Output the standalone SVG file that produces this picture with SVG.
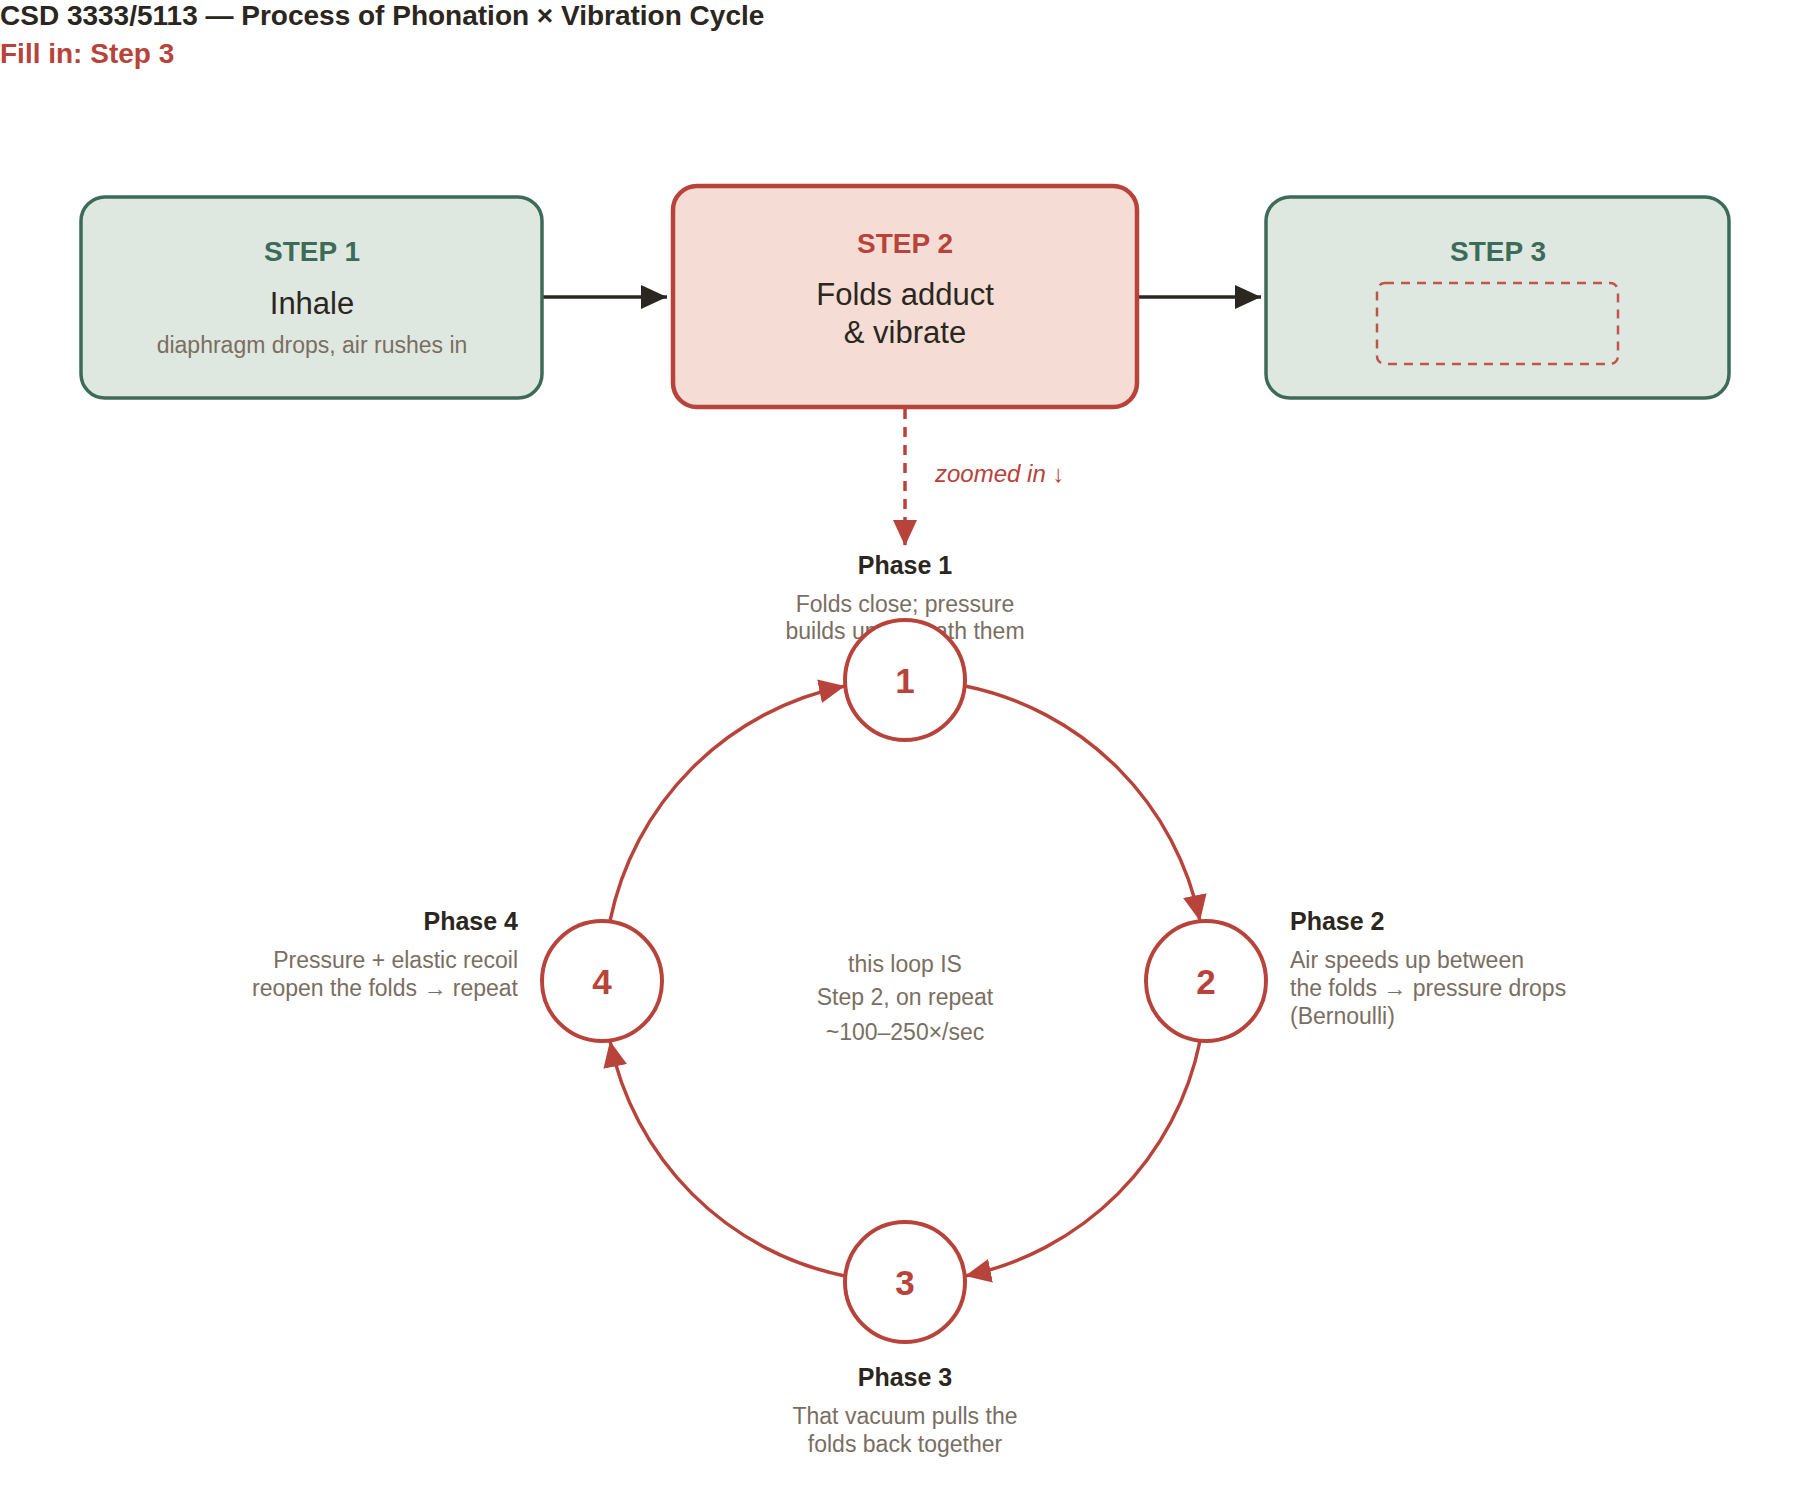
<svg xmlns="http://www.w3.org/2000/svg" width="1800" height="1496" viewBox="0 0 1800 1496">
<style>
text{font-family:"Liberation Sans",Arial,sans-serif}
.t{font-size:28px;font-weight:bold;fill:#2b2620}
.g{fill:#dfe8e0;stroke:#3d6b5a;stroke-width:3.5}
.sh{font-size:28px;font-weight:bold;text-anchor:middle}
.m{font-size:31px;fill:#2b2620;text-anchor:middle}
.s{font-size:23px;fill:#7a6e62}
.ph{font-size:25px;font-weight:bold;fill:#2b2620}
.c{fill:#fff;stroke:#b8433a;stroke-width:4}
.n{font-size:35px;font-weight:bold;fill:#b8433a;text-anchor:middle}
.arc{fill:none;stroke:#b8433a;stroke-width:3.5}
</style>
<defs>
<marker id="ah" markerUnits="userSpaceOnUse" markerWidth="28" markerHeight="28" viewBox="0 0 28 28" refX="26" refY="14" orient="auto"><path d="M0,2 L26,14 L0,26 Z" fill="#2b2620"/></marker>
<marker id="ar" markerUnits="userSpaceOnUse" markerWidth="28" markerHeight="28" viewBox="0 0 28 28" refX="26" refY="14" orient="auto"><path d="M0,2 L26,14 L0,26 Z" fill="#b8433a"/></marker>
</defs>
<text class="t" x="0" y="25">CSD 3333/5113 — Process of Phonation × Vibration Cycle</text>
<text x="0" y="63" style="font-size:28px;font-weight:bold;fill:#b8433a">Fill in: Step 3</text>
<g id="connectors">
<line x1="543" y1="297" x2="667" y2="297" stroke="#2b2620" stroke-width="3.5" marker-end="url(#ah)"/>
<line x1="1137" y1="297" x2="1261" y2="297" stroke="#2b2620" stroke-width="3.5" marker-end="url(#ah)"/>
<line x1="905" y1="409" x2="905" y2="546" stroke="#b8433a" stroke-width="3.5" stroke-dasharray="10,8" marker-end="url(#ar)"/>
<text x="935" y="482" style="font-size:24px;font-style:italic;fill:#b8433a">zoomed in ↓</text>
<path class="arc" d="M965,686 A301,301 0 0 1 1200,921" marker-end="url(#ar)"/>
<path class="arc" d="M1200,1041 A301,301 0 0 1 965,1276" marker-end="url(#ar)"/>
<path class="arc" d="M845,1276 A301,301 0 0 1 610,1041" marker-end="url(#ar)"/>
<path class="arc" d="M610,921 A301,301 0 0 1 845,686" marker-end="url(#ar)"/>
</g>
<g id="step1">
<rect class="g" x="81" y="197" width="461" height="201" rx="24"/>
<text class="sh" x="312" y="261" fill="#3d6b5a">STEP 1</text>
<text class="m" x="312" y="314">Inhale</text>
<text class="s" x="312" y="353" text-anchor="middle">diaphragm drops, air rushes in</text>
</g>
<g id="step2">
<rect x="673" y="186" width="464" height="221" rx="24" fill="#f5ddd5" stroke="#b8433a" stroke-width="4.5"/>
<text class="sh" x="905" y="253" fill="#b8433a">STEP 2</text>
<text class="m" x="905" y="305">Folds adduct</text>
<text class="m" x="905" y="343">&amp; vibrate</text>
</g>
<g id="step3">
<rect class="g" x="1266" y="197" width="463" height="201" rx="24"/>
<text class="sh" x="1498" y="261" fill="#3d6b5a">STEP 3</text>
<rect x="1377" y="283" width="241" height="81" rx="8" fill="none" stroke="#c0554b" stroke-width="2.5" stroke-dasharray="9,7"/>
</g>
<g id="phase1">
<text class="ph" x="905" y="574" text-anchor="middle">Phase 1</text>
<text class="s" x="905" y="612" text-anchor="middle">Folds close; pressure</text>
<text class="s" x="905" y="639" text-anchor="middle">builds up beneath them</text>
<circle class="c" cx="905" cy="680" r="60"/>
<text class="n" x="905" y="693">1</text>
</g>
<g id="phase2">
<circle class="c" cx="1206" cy="981" r="60"/>
<text class="n" x="1206" y="994">2</text>
<text class="ph" x="1290" y="930">Phase 2</text>
<text class="s" x="1290" y="968">Air speeds up between</text>
<text class="s" x="1290" y="996">the folds → pressure drops</text>
<text class="s" x="1290" y="1024">(Bernoulli)</text>
</g>
<g id="phase3">
<circle class="c" cx="905" cy="1282" r="60"/>
<text class="n" x="905" y="1295">3</text>
<text class="ph" x="905" y="1386" text-anchor="middle">Phase 3</text>
<text class="s" x="905" y="1424" text-anchor="middle">That vacuum pulls the</text>
<text class="s" x="905" y="1452" text-anchor="middle">folds back together</text>
</g>
<g id="phase4">
<circle class="c" cx="602" cy="981" r="60"/>
<text class="n" x="602" y="994">4</text>
<text class="ph" x="518" y="930" text-anchor="end">Phase 4</text>
<text class="s" x="518" y="968" text-anchor="end">Pressure + elastic recoil</text>
<text class="s" x="518" y="996" text-anchor="end">reopen the folds → repeat</text>
</g>
<g id="center">
<text class="s" x="905" y="972" text-anchor="middle">this loop IS</text>
<text class="s" x="905" y="1005" text-anchor="middle">Step 2, on repeat</text>
<text class="s" x="905" y="1040" text-anchor="middle">~100–250×/sec</text>
</g>
</svg>
